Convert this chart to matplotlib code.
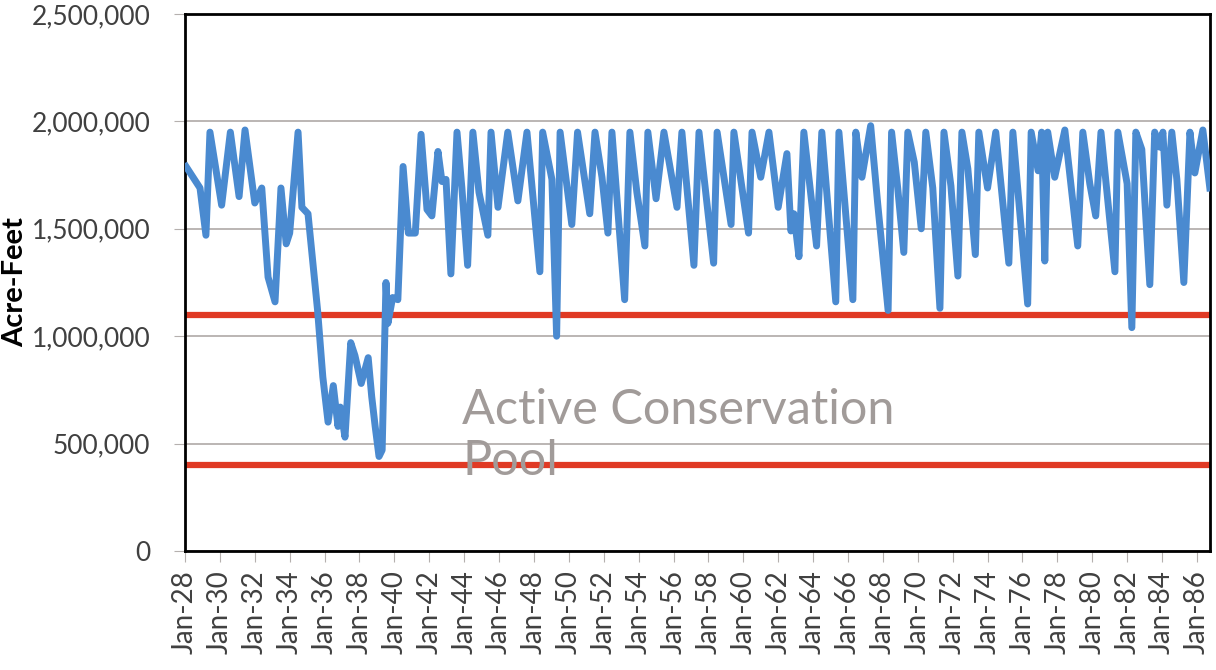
import numpy as np
import matplotlib
matplotlib.use("Agg")
import matplotlib.pyplot as plt

# Storage turning points (decimal year, acre-feet)
years = [
    1928.06, 1928.86, 1929.20, 1929.43, 1930.10, 1930.60, 1931.10, 1931.44, 1932.00, 1932.40,
    1932.76, 1933.16, 1933.50, 1933.80, 1934.00, 1934.48, 1934.70, 1935.05, 1935.60, 1935.90,
    1936.20, 1936.50, 1936.77, 1936.90, 1937.17, 1937.50, 1937.74, 1938.10, 1938.50, 1938.70,
    1938.90, 1939.12, 1939.30, 1939.52, 1939.63, 1939.90, 1940.20, 1940.50, 1940.80, 1941.20,
    1941.53, 1941.87, 1942.15, 1942.50, 1942.73, 1942.96, 1943.24, 1943.59, 1943.87, 1944.20,
    1944.50, 1944.85, 1945.36, 1945.54, 1945.94, 1946.50, 1947.08, 1947.60, 1948.34, 1948.50,
    1949.03, 1949.30, 1949.50, 1950.17, 1950.50, 1951.20, 1951.50, 1951.90, 1952.24, 1952.47,
    1953.20, 1953.50, 1953.90, 1954.36, 1954.53, 1955.00, 1955.45, 1956.20, 1956.48, 1957.17,
    1957.46, 1958.30, 1958.50, 1959.30, 1959.46, 1960.30, 1960.50, 1961.00, 1961.47, 1962.00,
    1962.50, 1962.73, 1962.90, 1963.19, 1963.47, 1964.20, 1964.50, 1965.30, 1965.48, 1966.28,
    1966.45, 1966.80, 1967.30, 1967.70, 1968.30, 1968.50, 1968.85, 1969.20, 1969.43, 1969.80,
    1970.20, 1970.46, 1970.86, 1971.27, 1971.50, 1971.90, 1972.30, 1972.53, 1972.87, 1973.30,
    1973.50, 1974.00, 1974.47, 1975.22, 1975.45, 1976.30, 1976.50, 1976.90, 1977.10, 1977.28,
    1977.45, 1977.85, 1978.43, 1979.17, 1979.46, 1979.86, 1980.20, 1980.50, 1981.30, 1981.47,
    1982.00, 1982.27, 1982.50, 1982.84, 1983.30, 1983.58, 1983.87, 1984.05, 1984.28, 1984.56,
    1984.85, 1985.25, 1985.60, 1985.88, 1986.34, 1986.74,
]
acre_feet = [
    1790000, 1690000, 1470000, 1950000, 1610000, 1950000, 1650000, 1960000, 1620000, 1690000,
    1275000, 1160000, 1690000, 1430000, 1480000, 1950000, 1600000, 1570000, 1120000, 810000,
    600000, 770000, 580000, 670000, 530000, 970000, 910000, 780000, 900000, 720000,
    580000, 440000, 470000, 1250000, 1060000, 1180000, 1170000, 1790000, 1480000, 1480000,
    1940000, 1590000, 1560000, 1860000, 1720000, 1730000, 1290000, 1950000, 1690000, 1330000,
    1950000, 1670000, 1470000, 1950000, 1600000, 1950000, 1630000, 1950000, 1300000, 1950000,
    1730000, 1000000, 1950000, 1520000, 1950000, 1570000, 1950000, 1740000, 1480000, 1950000,
    1170000, 1950000, 1670000, 1420000, 1950000, 1640000, 1950000, 1600000, 1950000, 1330000,
    1950000, 1340000, 1950000, 1520000, 1950000, 1480000, 1950000, 1740000, 1950000, 1600000,
    1850000, 1490000, 1570000, 1370000, 1950000, 1420000, 1950000, 1160000, 1950000, 1170000,
    1950000, 1740000, 1980000, 1620000, 1120000, 1950000, 1690000, 1390000, 1950000, 1810000,
    1500000, 1950000, 1690000, 1130000, 1950000, 1700000, 1280000, 1950000, 1780000, 1380000,
    1950000, 1690000, 1950000, 1340000, 1950000, 1150000, 1950000, 1770000, 1950000, 1350000,
    1950000, 1740000, 1960000, 1420000, 1950000, 1710000, 1560000, 1950000, 1300000, 1950000,
    1710000, 1040000, 1950000, 1870000, 1240000, 1950000, 1880000, 1950000, 1610000, 1950000,
    1730000, 1250000, 1950000, 1760000, 1960000, 1690000,
]

pool_top = 1100000
pool_bottom = 400000
tick_years = list(range(1928, 1987, 2))
tick_labels = ["Jan-%02d" % (y % 100) for y in tick_years]
y_ticks = [0, 500000, 1000000, 1500000, 2000000, 2500000]

plt.rcParams['font.family'] = ['Lato', 'DejaVu Sans']

fig = plt.figure(figsize=(12.16, 6.7), dpi=100)
ax = fig.add_axes([185 / 1216, 1 - 551 / 670, (1210 - 185) / 1216, (551 - 14) / 670])

# Gridlines
ax.set_yticks(y_ticks)
ax.yaxis.grid(True, color='#b5b0ae', linewidth=1.3)
ax.set_axisbelow(True)

# Storage line
ax.plot(years, acre_feet, color='#4a8ad0', linewidth=5, solid_joinstyle='round', zorder=3)

# Active conservation pool limits
ax.axhline(pool_top, color='#e03a24', linewidth=4.5, zorder=2)
ax.axhline(pool_bottom, color='#e03a24', linewidth=4.5, zorder=2)

ax.text(1943.9, 760000, "Active Conservation\nPool", fontsize=35, color='#a19b99',
        va='top', ha='left', linespacing=1.2, zorder=4)

ax.set_xlim(1928, 1986.75)
ax.set_ylim(0, 2500000)
ax.set_xticks(tick_years)
ax.set_xticklabels(tick_labels, rotation=90, fontsize=20, color='#404040')
ax.set_yticklabels(["{:,}".format(v) for v in y_ticks], fontsize=19, color='#404040')
ax.tick_params(axis='x', length=8, color='#b5b0ae', pad=6)
ax.tick_params(axis='y', length=8, color='#b5b0ae', pad=17)

for s in ax.spines.values():
    s.set_color('black')
    s.set_linewidth(2)

ax.set_ylabel('Acre-Feet', fontsize=21, fontweight='bold', color='black')
ax.yaxis.set_label_coords(-0.153, 0.5)

plt.savefig('out.png', dpi=100)
